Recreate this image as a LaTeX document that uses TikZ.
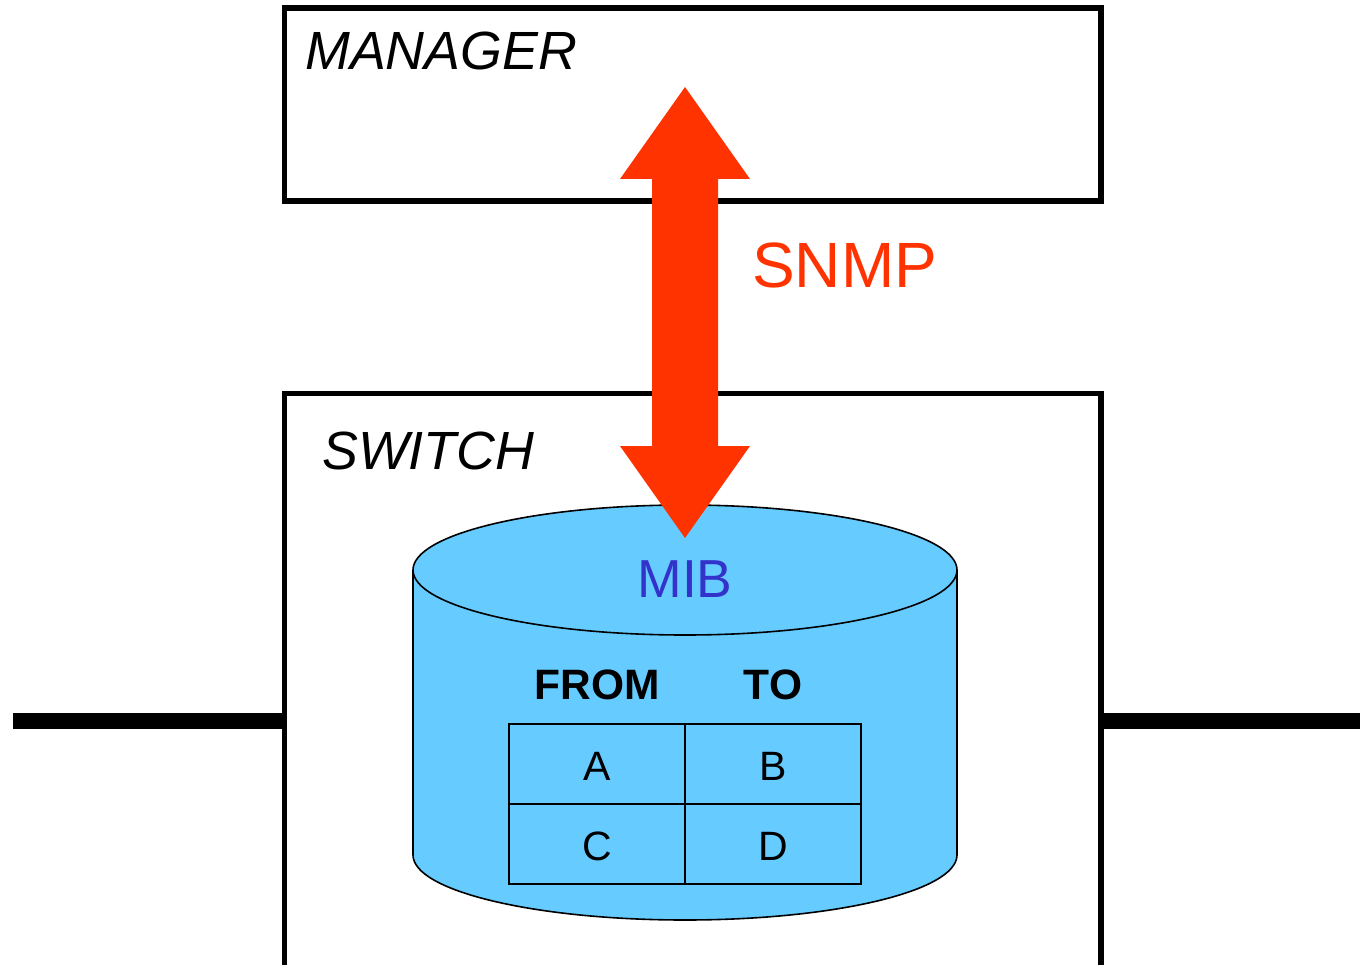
\documentclass[tikz,border=0pt]{standalone}
\usepackage{fontspec}
\setmainfont{Liberation Sans}
\definecolor{snmpred}{RGB}{255,51,0}
\definecolor{mibblue}{RGB}{102,204,255}
\definecolor{mibtext}{RGB}{51,51,204}
\tikzset{
  x=1pt,y=-1pt,
  boxed/.style={draw=black,line width=5.5pt,fill=white,rectangle,inner sep=0pt},
  wire/.style={draw=black,line width=16pt},
  thin line/.style={draw=black,line width=1.6pt},
  lbl/.style={inner sep=0pt,text=black},
  cellbox/.style={draw=black,line width=1.8pt,rectangle,minimum width=176pt,minimum height=80pt,inner sep=0pt},
  celltext/.style={inner sep=0pt,anchor=base,font=\fontsize{41}{48}\selectfont},
  head/.style={inner sep=0pt,font=\fontsize{42.5}{50}\selectfont\bfseries},
}
\begin{document}
\begin{tikzpicture}
\useasboundingbox (0,0) rectangle (1360,965);
\clip (0,0) rectangle (1360,965);
\node[boxed,minimum width=816.5pt,minimum height=193pt] (manager) at (692.75,104.5) {};
\node[boxed,minimum width=816.5pt,minimum height=654pt] (switch) at (692.75,720.5) {};
\coordinate (wl) at (13,720.5);
\coordinate (wr) at (1360,720.5);
\draw[wire] (wl) -- (switch.west);
\draw[wire] (switch.east) -- (wr);
\node[lbl,anchor=base west,font=\fontsize{53.8}{60}\selectfont\itshape] (mgrl) at (305,70) {MANAGER};
\node[lbl,anchor=base west,font=\fontsize{53.8}{60}\selectfont\itshape] (swl) at (322,469.5) {SWITCH};
% cylinder
\path[fill=mibblue,thin line] (413,570) -- (413,855) arc[start angle=180,end angle=360,x radius=272,y radius=-65] -- (957,570) arc[start angle=0,end angle=180,x radius=272,y radius=-65] -- cycle;
\path[thin line] (413,570) arc[start angle=180,end angle=360,x radius=272,y radius=-65];
\node[lbl,anchor=base,text=mibtext,font=\fontsize{53.5}{60}\selectfont] (mib) at (685,597) {MIB};
\node[head,anchor=base] (from) at (597,699.5) {FROM};
\node[head,anchor=base] (to) at (773,699.5) {TO};
\node[cellbox] (a) at (597,764) {};
\node[cellbox] (b) at (773,764) {};
\node[cellbox] (c) at (597,844) {};
\node[cellbox] (d) at (773,844) {};
\node[celltext] (ta) at (597,780) {A};
\node[celltext] (tb) at (773,780) {B};
\node[celltext] (tc) at (597,860) {C};
\node[celltext] (td) at (773,860) {D};
% SNMP arrow
\coordinate (up) at (685,87);
\coordinate (dn) at (685,538);
\fill[snmpred] (up) -- (750,179) -- (718,179) -- (718,446) -- (750,446) -- (dn) -- (620,446) -- (652,446) -- (652,179) -- (620,179) -- cycle;
\node[lbl,anchor=base west,text=snmpred,font=\fontsize{64}{70}\selectfont] (snmp) at (752,288) {SNMP};
\end{tikzpicture}
\end{document}
